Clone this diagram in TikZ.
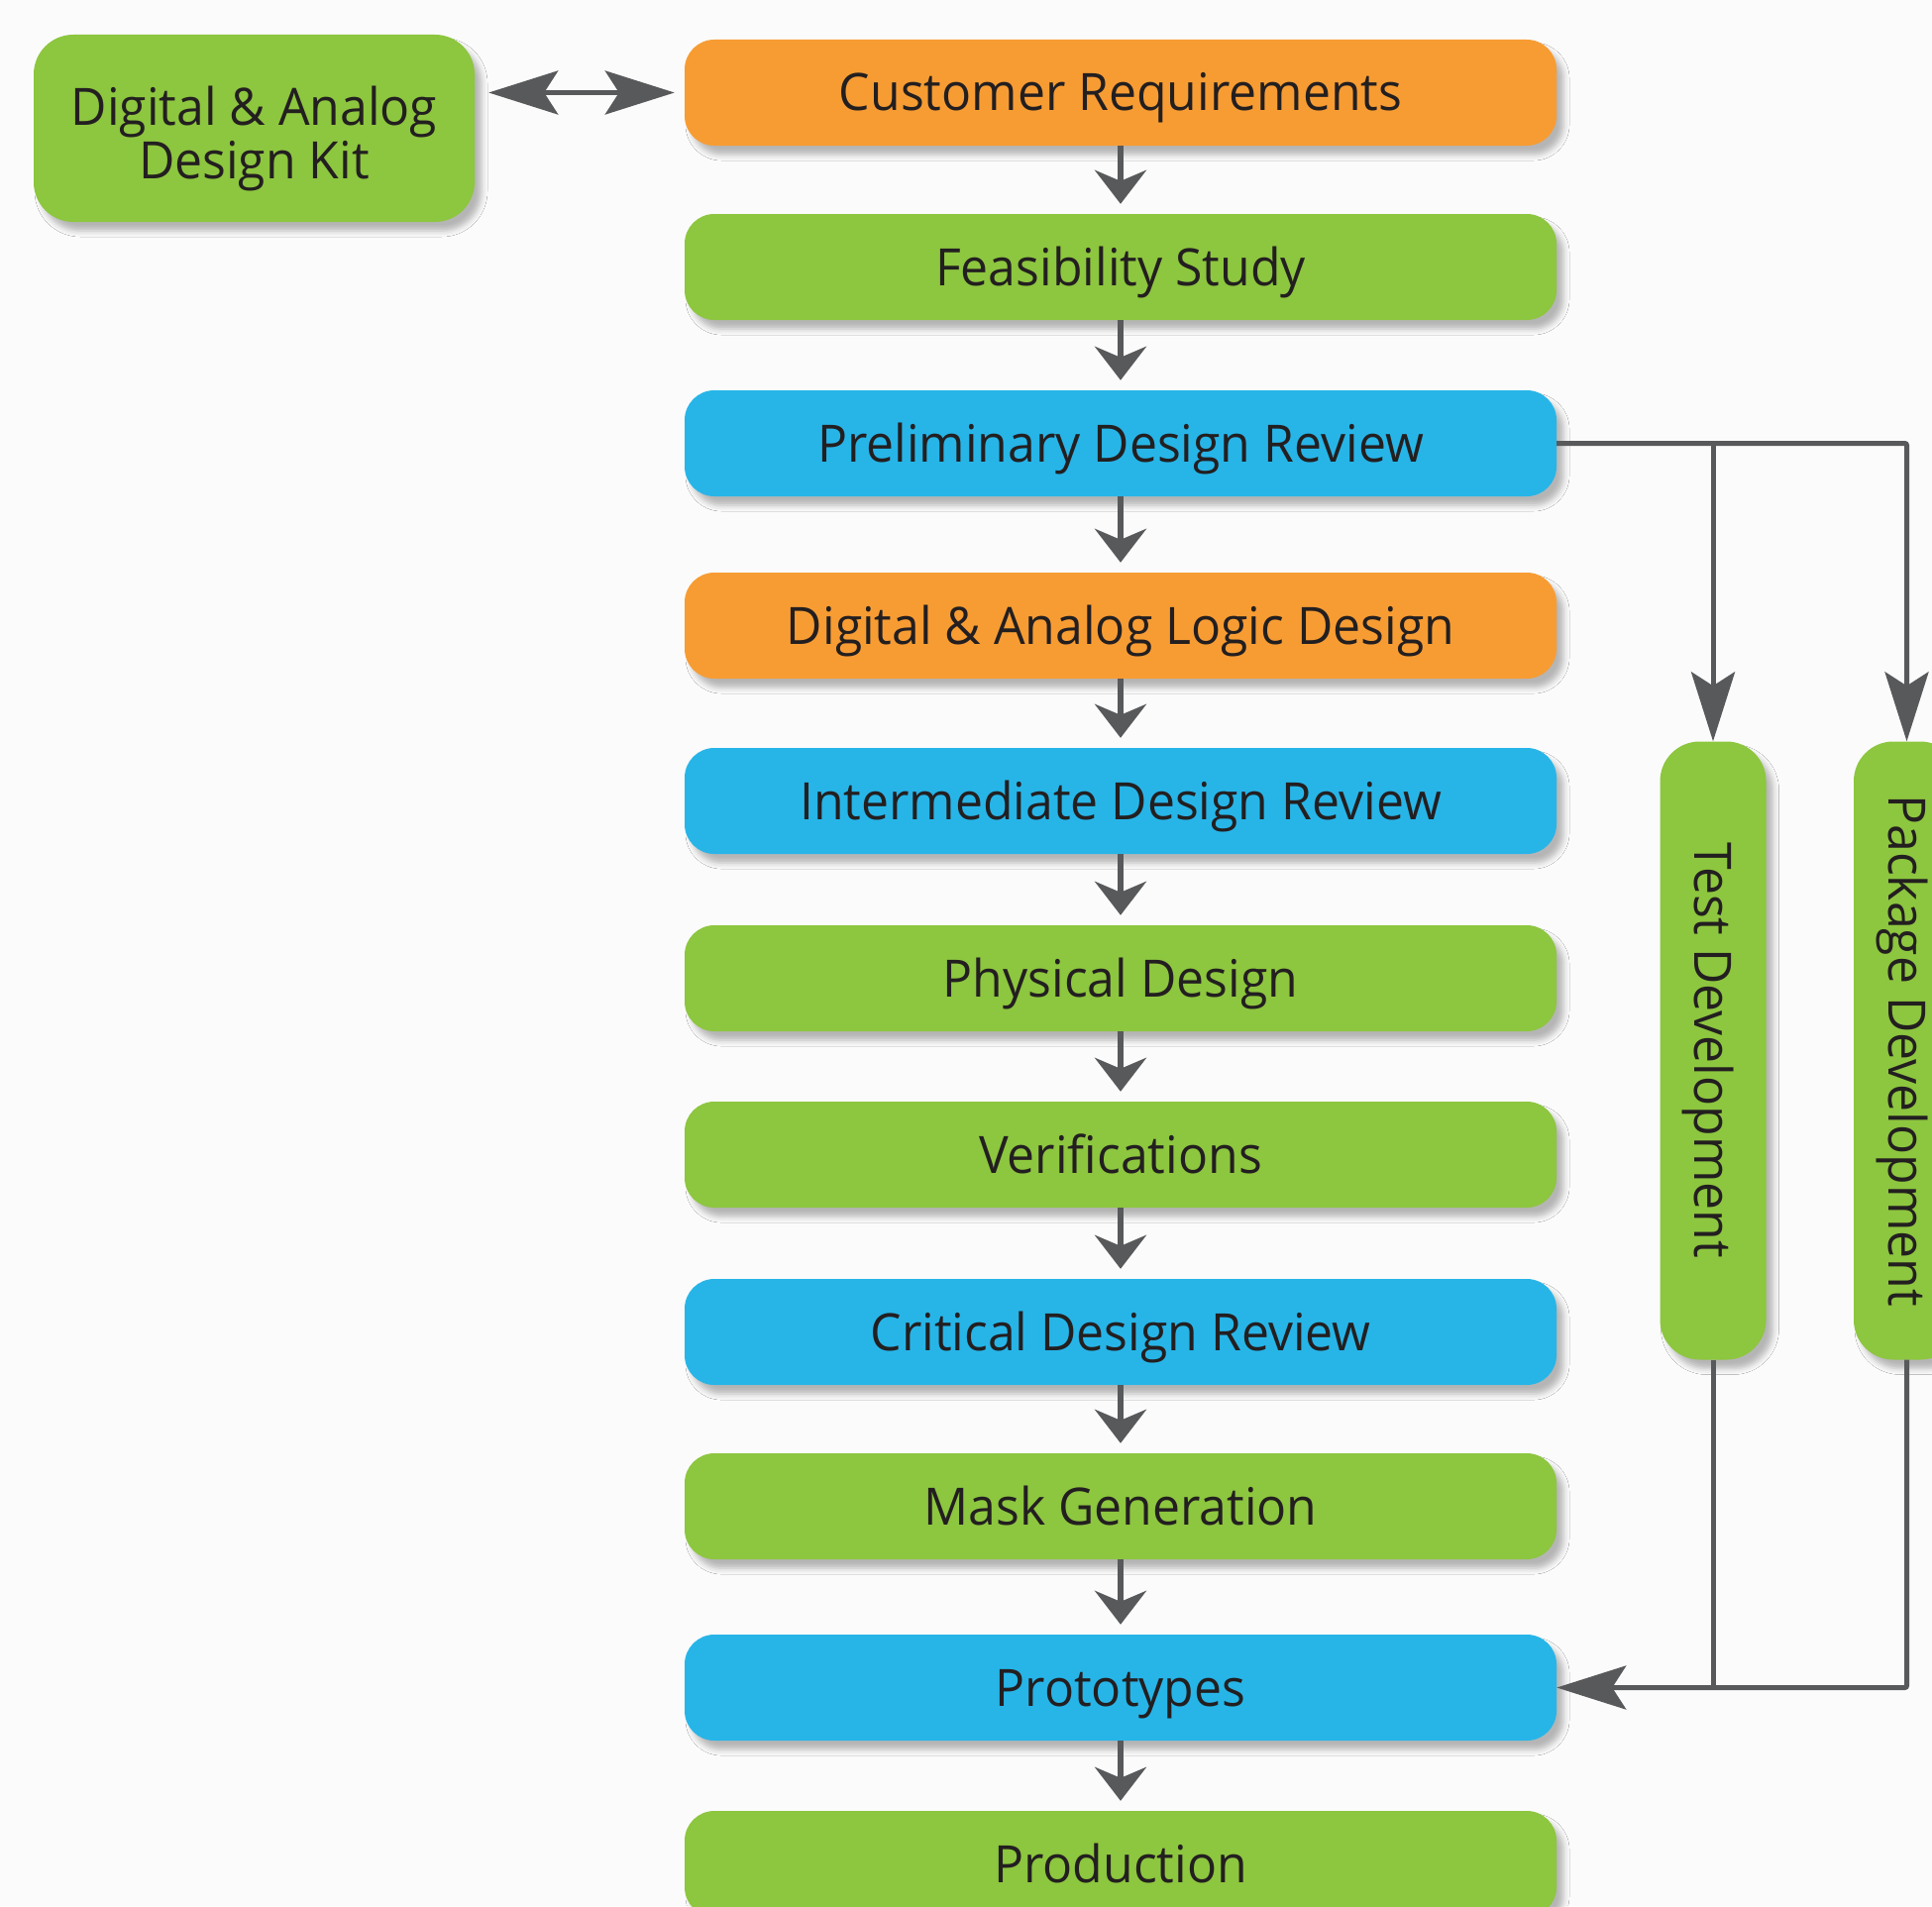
\documentclass[tikz,border=0pt]{standalone}
\usepackage{fontspec}
\setmainfont[FakeStretch=0.96]{Open Sans}
\usetikzlibrary{arrows.meta,shadows.blur,calc}
\definecolor{cOrange}{HTML}{F79C33}
\definecolor{cGreen}{HTML}{8DC63F}
\definecolor{cBlue}{HTML}{27B5E8}
\definecolor{cLine}{HTML}{58595B}
\definecolor{cText}{HTML}{231F20}
\definecolor{cBg}{HTML}{FBFBFB}
\tikzset{
  shad/.style={blur shadow={shadow xshift=7pt, shadow yshift=-9pt, shadow blur radius=6pt, shadow opacity=28}},
  box/.style={rounded corners=30pt, minimum width=880pt, minimum height=107pt,
    inner sep=0pt, text=cText, font=\fontsize{52}{60}\selectfont,
    text height=37pt, text depth=0pt, shad},
  gbox/.style={box, fill=cGreen},
  obox/.style={box, fill=cOrange},
  bbox/.style={box, fill=cBlue},
  vbox/.style={rounded corners=40pt, minimum width=107pt, minimum height=624pt,
    inner sep=0pt, fill=cGreen, shad},
  vlabel/.style={rotate=-90, text=cText, font=\fontsize{52}{60}\selectfont, text height=37pt, text depth=0pt},
  flow/.style={draw=cLine, line width=5.5pt, -{Stealth[length=34pt, width=52pt, inset=11pt]}, shorten >=10pt},
  longarr/.style={draw=cLine, line width=5pt, -{Stealth[length=70pt, width=44pt, inset=14pt]}},
  plain/.style={draw=cLine, line width=5pt},
}
\begin{document}
\begin{tikzpicture}[x=1pt, y=-1pt]
\fill[cBg] (0,0) rectangle (1950,1924);
\useasboundingbox (0,0) rectangle (1950,1924);
\node[gbox, rounded corners=40pt, minimum width=445pt, minimum height=189pt] (dk) at (256.5,129.5) {};
\node[align=center, text=cText, font=\fontsize{52}{54}\selectfont, inner sep=0pt] (dklbl) at ($(dk.center)+(0,10)$) {Digital \& Analog\\Design Kit};
\node[obox] (cust) at (1131,93.5) {Customer Requirements};
\node[gbox] (feas) at (1131,269.5) {Feasibility Study};
\node[bbox] (prel) at (1131,447.5) {Preliminary Design Review};
\node[obox] (dald) at (1131,631.5) {Digital \& Analog Logic Design};
\node[bbox] (inter) at (1131,808.5) {Intermediate Design Review};
\node[gbox] (phys) at (1131,987.5) {Physical Design};
\node[gbox] (veri) at (1131,1165.5) {Verifications};
\node[bbox] (crit) at (1131,1344.5) {Critical Design Review};
\node[gbox] (mask) at (1131,1520.5) {Mask Generation};
\node[bbox] (proto) at (1131,1703.5) {Prototypes};
\node[gbox] (prod) at (1131,1881.5) {Production};
\node[vbox] (test) at (1729,1060.5) {};
\node[vlabel] (testlbl) at (test.center) {Test Development};
\node[vbox] (pkg) at (1924.5,1060.5) {};
\node[vlabel] (pkglbl) at (pkg.center) {Package Development};
% main flow
\foreach \a/\b in {cust/feas, feas/prel, prel/dald, dald/inter, inter/phys, phys/veri, veri/crit, crit/mask, mask/proto, proto/prod}
  \draw[flow] (\a.south) -- (\b.north);
% design kit double arrow
\draw[draw=cLine, line width=5pt, {Stealth[length=70pt, width=44pt, inset=14pt]}-{Stealth[length=70pt, width=44pt, inset=14pt]}, shorten <=14pt, shorten >=10pt]
  (dk.east |- cust.west) -- (cust.west);
% branches to test and package
\draw[longarr, rounded corners=2pt] (prel.east) -| (pkg.north);
\draw[longarr] (prel.east -| test.north) -- (test.north);
\draw[longarr, rounded corners=2pt] (pkg.south) |- (proto.east);
\draw[plain] (test.south) -- (test.south |- proto.east);
\end{tikzpicture}
\end{document}
